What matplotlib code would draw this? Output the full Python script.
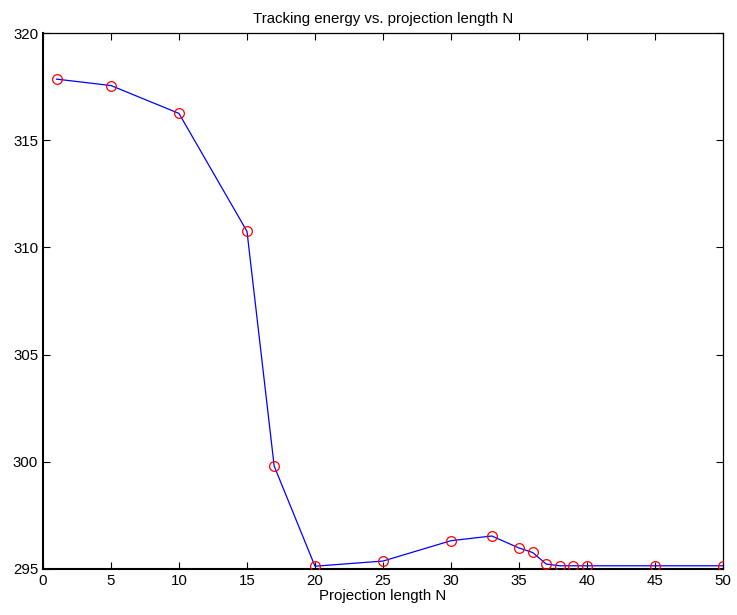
import matplotlib.pyplot as plt

plt.rcParams['font.family'] = ['Liberation Sans', 'DejaVu Sans']

# projection length N and tracking energy
proj_len = [1, 5, 10, 15, 17, 20, 25, 30, 33, 35, 36, 37, 38, 39, 40, 45, 50]
energy = [317.85, 317.55, 316.25, 310.75, 299.8, 295.13, 295.37, 296.32, 296.54,
          295.98, 295.77, 295.23, 295.15, 295.15, 295.15, 295.15, 295.15]

fig = plt.figure(figsize=(7.37, 6.15), dpi=100)
ax = fig.add_axes([0.0583, 0.0748, 0.9227, 0.8715])

ax.plot(proj_len, energy, color="blue", linewidth=0.9, zorder=2)
ax.plot(proj_len, energy, linestyle="none", marker="o", markersize=7,
        markerfacecolor="none", markeredgecolor="red", markeredgewidth=0.9, zorder=3)

ax.set_xlim(0, 50)
ax.set_ylim(295, 320)
ax.set_xticks(range(0, 51, 5))
ax.set_yticks(range(295, 321, 5))
ax.tick_params(direction="in", top=True, right=True, labelsize=10.8, length=5, width=0.8)
for s in ax.spines.values():
    s.set_linewidth(0.9)
ax.spines["bottom"].set_linewidth(1.5)
ax.spines["left"].set_linewidth(1.5)

ax.set_title("Tracking energy vs. projection length N", fontsize=10.8, pad=7)
ax.set_xlabel("Projection length N", fontsize=10.8, labelpad=1)

fig.savefig("out.png", dpi=100)
